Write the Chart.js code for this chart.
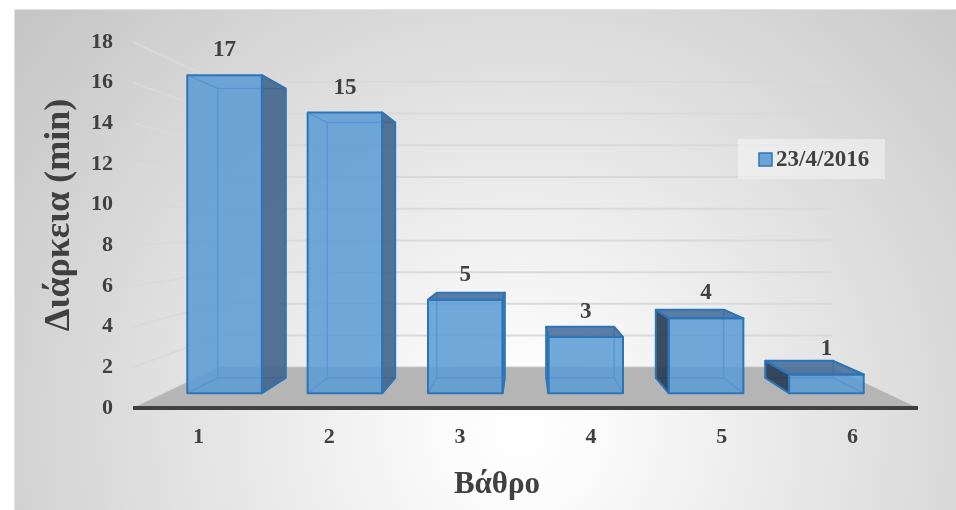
<!DOCTYPE html>
<html>
<head>
<meta charset="utf-8">
<title>Διάρκεια ανά βάθρο</title>
<script src="https://cdn.jsdelivr.net/npm/chart.js@4.4.1/dist/chart.umd.min.js"></script>
<style>
  html, body { margin: 0; padding: 0; background: #ffffff; }
  #wrap { width: 956px; height: 510px; }
</style>
</head>
<body>
<div id="wrap"><canvas id="chart" width="956" height="510"></canvas></div>
<script>
// Data
const categories = ['1', '2', '3', '4', '5', '6'];
const durations = [17, 15, 5, 3, 4, 1];
const seriesLabel = '23/4/2016';
const yMin = 0;
const yMax = 18;
const yStep = 2;
const xTitle = 'Βάθρο';
const yTitle = 'Διάρκεια (min)';

// Styling
const FONT = "'Liberation Serif', 'Times New Roman', serif";
const TEXT = '#404040';
const BAR_LINE = '#2e75b6';
// perspective: depth factors toward the vanishing point (1 = front plane)
const DEPTH = { floorBack: 0.78, barFront: 0.92, barBack: 0.837 };
const VANISH_VALUE = 9.1;

function view(chart) {
  const a = chart.chartArea;
  return { vx: (a.left + a.right) / 2, vy: chart.scales.y.getPixelForValue(VANISH_VALUE) };
}
function proj(v, x, y, s) {
  return [v.vx + s * (x - v.vx), v.vy + s * (y - v.vy)];
}
function poly(ctx, pts) {
  ctx.beginPath();
  ctx.moveTo(pts[0][0], pts[0][1]);
  for (let i = 1; i < pts.length; i++) ctx.lineTo(pts[i][0], pts[i][1]);
  ctx.closePath();
}
function seg(ctx, p, q) {
  ctx.beginPath();
  ctx.moveTo(p[0], p[1]);
  ctx.lineTo(q[0], q[1]);
  ctx.stroke();
}

// backdrop of the chart box
const backdrop = {
  id: 'backdrop',
  beforeDraw(chart) {
    const ctx = chart.ctx;
    ctx.save();
    ctx.fillStyle = '#ffffff';
    ctx.fillRect(0, 0, chart.width, chart.height);
    const g = ctx.createRadialGradient(520, 430, 0, 520, 430, 640);
    g.addColorStop(0, '#ffffff');
    g.addColorStop(0.12, '#fbfbfb');
    g.addColorStop(1, '#c6c6c6');
    ctx.fillStyle = g;
    ctx.fillRect(14, 9, chart.width - 14, chart.height - 9);
    ctx.strokeStyle = '#e2e2e2';
    ctx.lineWidth = 1;
    ctx.strokeRect(14.5, 9.5, chart.width - 14, chart.height - 9);
    ctx.restore();
  }
};

// walls' gridlines and the floor
const room = {
  id: 'room',
  beforeDatasetsDraw(chart) {
    const ctx = chart.ctx, a = chart.chartArea, ys = chart.scales.y, v = view(chart);
    ctx.save();
    ctx.strokeStyle = '#d9d9d9';
    ctx.lineWidth = 2;
    ys.ticks.forEach(t => {
      const yf = ys.getPixelForValue(t.value);
      const p1 = proj(v, a.left, yf, DEPTH.floorBack);
      const p2 = proj(v, a.right, yf, DEPTH.floorBack);
      ctx.beginPath();
      ctx.moveTo(a.left, yf);
      ctx.lineTo(p1[0], p1[1]);
      ctx.lineTo(p2[0], p2[1]);
      ctx.stroke();
    });
    const y0 = ys.getPixelForValue(0);
    const bl = proj(v, a.left, y0, DEPTH.floorBack);
    const br = proj(v, a.right, y0, DEPTH.floorBack);
    ctx.fillStyle = '#b5b5b5';
    poly(ctx, [[a.left, y0], bl, br, [a.right, y0]]);
    ctx.fill();
    ctx.strokeStyle = '#404040';
    ctx.lineWidth = 4;
    seg(ctx, [a.left, y0], [a.right, y0]);
    ctx.restore();
  }
};

// 3-D boxes built on the bar elements, plus their value labels
const boxes = {
  id: 'boxes',
  afterDatasetsDraw(chart) {
    const ctx = chart.ctx, v = view(chart);
    const meta = chart.getDatasetMeta(0);
    const values = chart.data.datasets[0].data;
    ctx.save();
    ctx.lineJoin = 'round';
    meta.data.forEach((bar, i) => {
      const { x, y, base, width } = bar.getProps(['x', 'y', 'base', 'width'], true);
      const l = x - width / 2, r = x + width / 2;
      const f = DEPTH.barFront, b = DEPTH.barBack;
      const F = { lt: proj(v, l, y, f), rt: proj(v, r, y, f), rb: proj(v, r, base, f), lb: proj(v, l, base, f) };
      const B = { lt: proj(v, l, y, b), rt: proj(v, r, y, b), rb: proj(v, r, base, b), lb: proj(v, l, base, b) };

      // edges behind the front face
      ctx.strokeStyle = 'rgba(46,117,182,0.9)';
      ctx.lineWidth = 1.5;
      poly(ctx, [B.lt, B.rt, B.rb, B.lb]);
      ctx.stroke();
      seg(ctx, F.lt, B.lt); seg(ctx, F.rt, B.rt); seg(ctx, F.rb, B.rb); seg(ctx, F.lb, B.lb);

      const faces = [];
      if (r < v.vx) faces.push({ pts: [F.rt, B.rt, B.rb, F.rb], fill: 'rgba(66,100,136,0.9)' });
      if (l > v.vx) faces.push({ pts: [F.lt, B.lt, B.lb, F.lb], fill: 'rgba(42,62,86,0.92)' });
      if (y > v.vy) faces.push({ pts: [F.lt, F.rt, B.rt, B.lt], fill: 'rgba(72,112,156,0.9)' });
      faces.push({ pts: [F.lt, F.rt, F.rb, F.lb], fill: 'rgba(91,155,213,0.86)' });

      faces.forEach(fc => {
        ctx.fillStyle = fc.fill;
        poly(ctx, fc.pts);
        ctx.fill();
      });
      ctx.strokeStyle = BAR_LINE;
      ctx.lineWidth = 2;
      faces.forEach(fc => {
        poly(ctx, fc.pts);
        ctx.stroke();
      });

      // value label above the front face
      ctx.fillStyle = TEXT;
      ctx.font = 'bold 23px ' + FONT;
      ctx.textAlign = 'center';
      ctx.textBaseline = 'middle';
      ctx.fillText(String(values[i]), (F.lt[0] + F.rt[0]) / 2, F.lt[1] - 25);
    });
    ctx.restore();
  }
};

// axis titles and legend
const annotations = {
  id: 'annotations',
  afterDraw(chart) {
    const ctx = chart.ctx;
    const ds = chart.data.datasets[0];
    ctx.save();
    ctx.fillStyle = TEXT;
    ctx.textAlign = 'center';
    ctx.textBaseline = 'alphabetic';
    ctx.font = 'bold 31px ' + FONT;
    ctx.fillText(xTitle, 497, 493);
    ctx.save();
    ctx.translate(69, 215);
    ctx.rotate(-Math.PI / 2);
    ctx.font = 'bold 36px ' + FONT;
    ctx.fillText(yTitle, 0, 0);
    ctx.restore();

    // legend
    ctx.fillStyle = 'rgba(255,255,255,0.42)';
    ctx.fillRect(738, 139, 147, 40);
    ctx.fillStyle = 'rgba(91,155,213,0.9)';
    ctx.fillRect(759, 153, 13, 13);
    ctx.strokeStyle = BAR_LINE;
    ctx.lineWidth = 1.5;
    ctx.strokeRect(759, 153, 13, 13);
    ctx.fillStyle = TEXT;
    ctx.font = 'bold 23px ' + FONT;
    ctx.textAlign = 'left';
    ctx.textBaseline = 'middle';
    ctx.fillText(ds.label, 776, 160);
    ctx.restore();
  }
};

new Chart(document.getElementById('chart'), {
  type: 'bar',
  data: {
    labels: categories,
    datasets: [{
      label: seriesLabel,
      data: durations,
      backgroundColor: 'rgba(0,0,0,0)',
      borderWidth: 0,
      barPercentage: 0.62,
      categoryPercentage: 1
    }]
  },
  options: {
    responsive: false,
    animation: false,
    events: [],
    layout: { padding: { left: 14, right: 38, top: 42, bottom: 0 } },
    plugins: {
      legend: { display: false },
      tooltip: { enabled: false }
    },
    scales: {
      x: {
        grid: { display: false, drawTicks: false },
        border: { display: false },
        ticks: { color: TEXT, font: { family: FONT, size: 22, weight: 'bold' }, padding: 16 },
        afterFit(s) { s.height = 102; }
      },
      y: {
        min: yMin,
        max: yMax,
        grid: { display: false, drawTicks: false },
        border: { display: false },
        ticks: { stepSize: yStep, color: TEXT, font: { family: FONT, size: 22, weight: 'bold' }, padding: 20 },
        afterFit(s) { s.width = 119; }
      }
    }
  },
  plugins: [backdrop, room, boxes, annotations]
});
</script>
</body>
</html>
